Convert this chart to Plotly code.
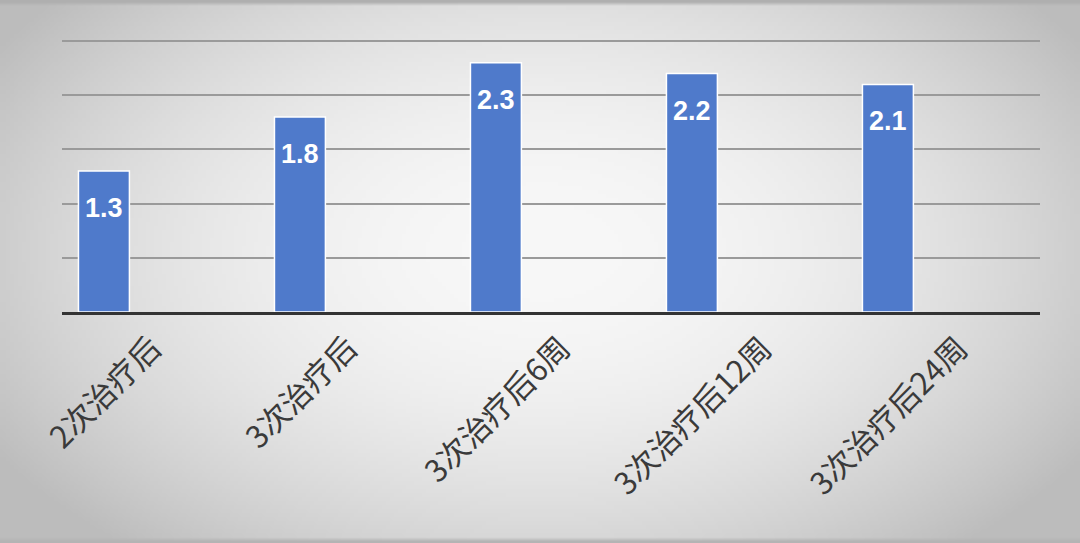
import base64
import struct
import zlib

import numpy as np
import plotly.graph_objects as go

# dados
categorias = ['2次治疗后', '3次治疗后', '3次治疗后6周', '3次治疗后12周', '3次治疗后24周']
valores = [1.3, 1.8, 2.3, 2.2, 2.1]


# fundo com gradiente radial (png gerado em memoria)
def gradiente_png(w, h):
    yy, xx = np.mgrid[0:h, 0:w]
    d2 = ((xx - w * 0.5) / (w * 0.5)) ** 2 + ((yy - h * 0.46) / (h * 0.6)) ** 2
    img = np.clip(248 - 42 * d2, 188, 250).astype(np.uint8)
    img[0:1, :] = 175
    img[-1:, :] = 180
    raw = b''.join(b'\x00' + linha.tobytes() for linha in img)

    def chunk(tag, data):
        return struct.pack('>I', len(data)) + tag + data + struct.pack('>I', zlib.crc32(tag + data) & 0xffffffff)

    png = b'\x89PNG\r\n\x1a\n'
    png += chunk(b'IHDR', struct.pack('>IIBBBBB', w, h, 8, 0, 0, 0, 0))
    png += chunk(b'IDAT', zlib.compress(raw, 9))
    png += chunk(b'IEND', b'')
    return 'data:image/png;base64,' + base64.b64encode(png).decode()


W, H = 1080, 543
ml, mr, mt, mb = 62, 40, 40, 231
pw, ph = W - ml - mr, H - mt - mb

fig = go.Figure(go.Bar(
    x=categorias, y=valores,
    marker=dict(color='#4F7ACB', line=dict(color='white', width=1.5)),
    hoverinfo='skip',
))

# rotulos de valor dentro das barras
for c, v in zip(categorias, valores):
    fig.add_annotation(x=c, y=v, text=f'<b>{v}</b>', showarrow=False, yanchor='middle', yshift=-37,
                       font=dict(family='Liberation Sans, Arial', size=27, color='white'))

# rotulos do eixo x inclinados e centralizados
for c in categorias:
    fig.add_annotation(x=c, y=0, text=c, showarrow=False, textangle=-45,
                       xanchor='center', yanchor='top', yshift=-10,
                       font=dict(family='Noto Sans CJK SC', size=31, color='#3a3a3a'))

fig.add_layout_image(dict(
    source=gradiente_png(270, 136), xref='paper', yref='paper',
    x=-ml / pw, y=1 + mt / ph, sizex=W / pw, sizey=H / ph,
    sizing='stretch', layer='below', xanchor='left', yanchor='top',
))

fig.update_layout(
    width=W, height=H,
    margin=dict(l=ml, r=mr, t=mt, b=mb),
    paper_bgcolor='white', plot_bgcolor='rgba(0,0,0,0)',
    bargap=0.74, showlegend=False,
    xaxis=dict(range=[-0.214, 4.776], showticklabels=False, showline=True, linecolor='#333333',
               linewidth=3, ticks='', showgrid=False, fixedrange=True),
    yaxis=dict(range=[0, 2.51], dtick=0.5, showticklabels=False, showgrid=True,
               gridcolor='#9a9a9a', gridwidth=1.5, zeroline=False, fixedrange=True),
)

fig.write_html('out.html', config={'displayModeBar': False},
               post_script="document.body.style.margin='0';")
